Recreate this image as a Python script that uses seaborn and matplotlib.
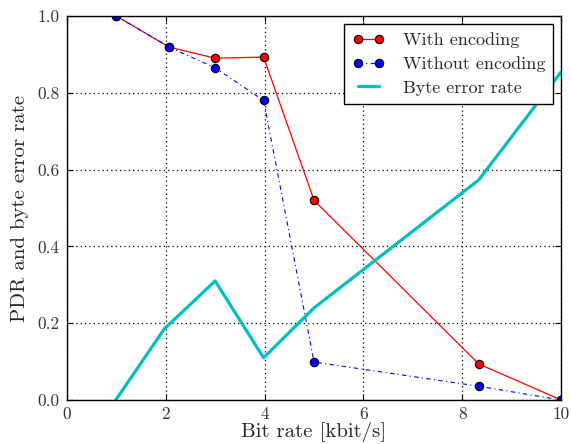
"""
PDR vs bit rate, with and without encoding
"""

import matplotlib
matplotlib.use("Agg")
import matplotlib.pyplot as plt
import seaborn as sns

# Data
rate_enc = [1.0, 2.07, 3.0, 3.98, 5.0, 8.33, 10.0]
pdr_enc = [1.0, 0.919, 0.89, 0.893, 0.52, 0.094, 0.0]

rate_noenc = [1.0, 2.07, 3.0, 3.98, 5.0, 8.33, 10.0]
pdr_noenc = [1.0, 0.919, 0.865, 0.78, 0.099, 0.036, 0.0]

rate_ber = [0.99, 1.97, 3.0, 3.98, 5.0, 8.33, 10.0]
byte_err = [0.0, 0.185, 0.31, 0.11, 0.24, 0.573, 0.855]

sns.set_style("ticks")
plt.rcParams['font.family'] = ['cmr10', 'DejaVu Serif']
plt.rcParams['mathtext.fontset'] = 'cm'
plt.rcParams['axes.formatter.use_mathtext'] = True
plt.rcParams['axes.unicode_minus'] = False

fig, ax = plt.subplots(figsize=(5.71, 4.44), dpi=100)

sns.lineplot(x=rate_enc, y=pdr_enc, ax=ax, color='red', linewidth=0.9,
             marker='o', markersize=6, markerfacecolor='red',
             markeredgecolor='black', markeredgewidth=0.8,
             label='With encoding')
sns.lineplot(x=rate_noenc, y=pdr_noenc, ax=ax, color='blue', linewidth=0.8,
             dashes=False, marker='o', markersize=6, markerfacecolor='blue',
             markeredgecolor='black', markeredgewidth=0.8,
             label='Without encoding')
ax.lines[-1].set_linestyle((0, (4, 3, 1, 3)))
sns.lineplot(x=rate_ber, y=byte_err, ax=ax, color=(0, 0.75, 0.75),
             linewidth=2.3, label='Byte error rate')

ax.set_xlim(0, 10)
ax.set_ylim(0, 1)
ax.set_xticks([0, 2, 4, 6, 8, 10])
ax.set_yticks([0, 0.2, 0.4, 0.6, 0.8, 1.0])
ax.set_xticklabels(['0', '2', '4', '6', '8', '10'])
ax.set_yticklabels(['0.0', '0.2', '0.4', '0.6', '0.8', '1.0'])
ax.tick_params(direction='in', top=True, right=True, labelsize=12.5,
               length=4, width=0.8, colors='black', pad=5)
for lbl in ax.get_xticklabels() + ax.get_yticklabels():
    lbl.set_color('#333333')
for sp in ax.spines.values():
    sp.set_linewidth(1.0)
    sp.set_color('black')

ax.grid(True, linestyle=(0, (1, 2.5)), color='black', linewidth=0.9)
ax.set_xlabel('Bit rate [kbit/s]', fontsize=15, labelpad=0)
ax.set_ylabel('PDR and byte error rate', fontsize=15, labelpad=6)

leg = ax.legend(loc='upper right', fontsize=13, frameon=True, fancybox=False,
                edgecolor='black', framealpha=1, handlelength=1.8,
                handletextpad=1.0, borderpad=0.45, labelspacing=0.45,
                borderaxespad=0.45, numpoints=2)
leg.get_frame().set_linewidth(1.0)

fig.subplots_adjust(left=0.117, right=0.983, top=0.964, bottom=0.099)
fig.savefig('out.png', dpi=100)
